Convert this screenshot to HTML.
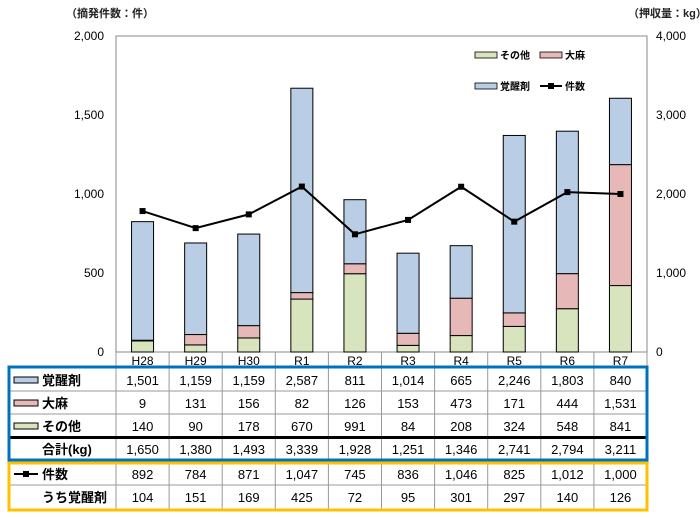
<!DOCTYPE html>
<html><head><meta charset="utf-8"><style>
body{margin:0;background:#fff}
svg text{font-family:"Liberation Sans","Noto Sans CJK JP",sans-serif;}
</style></head><body>
<svg id="s" width="700" height="514" xmlns="http://www.w3.org/2000/svg">
<text x="66" y="17" font-size="11" font-weight="bold" fill="#222">（摘発件数：件）</text>
<text x="628" y="17" font-size="11" font-weight="bold" fill="#222">（押収量：kg）</text>
<rect x="116" y="36" width="531" height="316" fill="none" stroke="#888" stroke-width="1"/>
<g font-size="12" fill="#000" text-anchor="end">
<text x="104" y="40">2,000</text><text x="104" y="119">1,500</text><text x="104" y="198">1,000</text><text x="104" y="277">500</text><text x="104" y="356">0</text>
</g>
<g font-size="12" fill="#000" text-anchor="start">
<text x="656" y="40">4,000</text><text x="656" y="119">3,000</text><text x="656" y="198">2,000</text><text x="656" y="277">1,000</text><text x="656" y="356">0</text>
</g>
<g id="bars"></g>
<g font-size="10" font-weight="bold" fill="#000">
<rect x="475" y="52" width="22" height="6" fill="#d7e4bd" stroke="#000" stroke-width="0.8"/><text x="500" y="59">その他</text>
<rect x="540" y="52" width="22" height="6" fill="#e6b9b8" stroke="#000" stroke-width="0.8"/><text x="565" y="59">大麻</text>
<rect x="475" y="83" width="22" height="6" fill="#b9cde5" stroke="#000" stroke-width="0.8"/><text x="500" y="90">覚醒剤</text>
<line x1="540" y1="86" x2="562" y2="86" stroke="#000" stroke-width="2"/><rect x="548" y="83" width="6" height="6" fill="#000"/><text x="565" y="90">件数</text>
</g>
<g id="tbl"></g>
</svg>
<script>
var ns="http://www.w3.org/2000/svg";
function el(p,t,a,txt){var e=document.createElementNS(ns,t);for(var k in a)e.setAttribute(k,a[k]);if(txt!==undefined)e.textContent=txt;p.appendChild(e);return e;}
var yrs=["H28","H29","H30","R1","R2","R3","R4","R5","R6","R7"];
var kak=[1501,1159,1159,2587,811,1014,665,2246,1803,840];
var tai=[9,131,156,82,126,153,473,171,444,1531];
var son=[140,90,178,670,991,84,208,324,548,841];
var tot=[1650,1380,1493,3339,1928,1251,1346,2741,2794,3211];
var ken=[892,784,871,1047,745,836,1046,825,1012,1000];
var uch=[104,151,169,425,72,95,301,297,140,126];
var B=document.getElementById("bars"),T=document.getElementById("tbl");
var cw=53.1,x0=116,base=352,kk=0.079,kc=0.158,xr=647;
var pts=[];
for(var i=0;i<10;i++){
 var cx=x0+cw*(i+0.5),bx=cx-11,y=base;
 [[son[i],"#d7e4bd"],[tai[i],"#e6b9b8"],[kak[i],"#b9cde5"]].forEach(function(d){
  var h=d[0]*kk;y-=h;el(B,"rect",{x:bx,y:y,width:22,height:h,fill:d[1],stroke:"#000","stroke-width":1});
 });
 pts.push(cx+","+(base-ken[i]*kc));
 el(T,"text",{x:cx,y:365,"font-size":12,"text-anchor":"middle"},yrs[i]);
}
el(B,"polyline",{points:pts.join(" "),fill:"none",stroke:"#000","stroke-width":2});
pts.forEach(function(p){var a=p.split(",");el(B,"rect",{x:a[0]-3,y:a[1]-3,width:6,height:6,fill:"#000"});});
for(var i=0;i<=10;i++){var x=x0+cw*i;el(T,"line",{x1:x,y1:352,x2:x,y2:510,stroke:"#999","stroke-width":1});}
[391,414,485].forEach(function(y){el(T,"line",{x1:8,y1:y,x2:xr,y2:y,stroke:"#999","stroke-width":1});});
el(T,"line",{x1:8,y1:437.5,x2:xr,y2:437.5,stroke:"#000","stroke-width":3});
var rows=[[kak,380],[tai,403],[son,426],[tot,449],[ken,474],[uch,497]];
rows.forEach(function(r){for(var i=0;i<10;i++){var v=r[0][i].toLocaleString("en-US");el(T,"text",{x:x0+cw*(i+0.5),y:r[1]+5,"font-size":13,"text-anchor":"middle"},v);}});
var lab=[["覚醒剤",380,"#b9cde5"],["大麻",403,"#e6b9b8"],["その他",426,"#d7e4bd"],["合計(kg)",449,null],["件数",474,"line"],["うち覚醒剤",497,null]];
lab.forEach(function(l){
 if(l[2]==="line"){el(T,"line",{x1:14,y1:l[1],x2:38,y2:l[1],stroke:"#000","stroke-width":2});el(T,"rect",{x:23,y:l[1]-3,width:6,height:6,fill:"#000"});}
 else if(l[2]){el(T,"rect",{x:14,y:l[1]-3,width:24,height:6,fill:l[2],stroke:"#000","stroke-width":1});}
 el(T,"text",{x:42,y:l[1]+5,"font-size":13,"font-weight":"bold"},l[0]);
});
el(T,"rect",{x:9,y:367,width:xr-9,height:93,fill:"none",stroke:"#0070c0","stroke-width":3});
el(T,"rect",{x:9,y:463,width:xr-9,height:47,fill:"none",stroke:"#ffc000","stroke-width":3});
</script>
</body></html>
